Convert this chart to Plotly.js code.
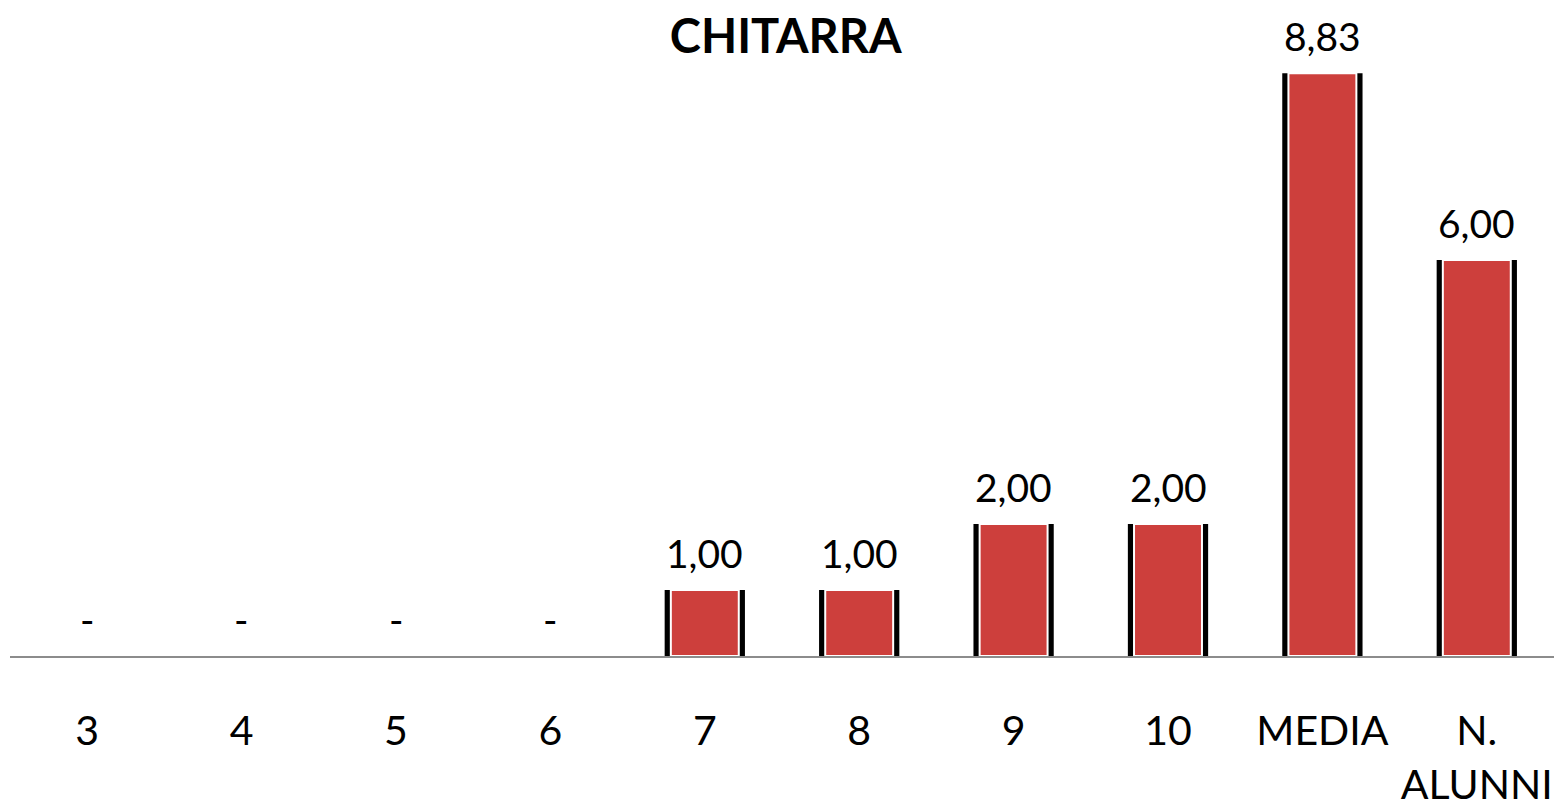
<!DOCTYPE html>
<html><head><meta charset="utf-8">
<script src="https://cdn.plot.ly/plotly-3.0.1.min.js"></script>
<style>html,body{margin:0;padding:0;background:#fff}#chart{width:1556px;height:810px}</style>
</head><body><div id="chart"></div>
<script>
const categories = ['3','4','5','6','7','8','9','10','MEDIA','N. ALUNNI'];
const tickLabels = ['3','4','5','6','7','8','9','10','MEDIA','N.<br>ALUNNI'];
const values = [0, 0, 0, 0, 1, 1, 2, 2, 8.83, 6];
const chartTitle = 'CHITARRA';

const labels = values.map(v => v === 0 ? '-' : v.toFixed(2).replace('.', ','));
const FONT = 'Lato, "Open Sans", sans-serif';

const shadow = {
  type: 'bar', x: categories, y: values, width: 0.52,
  marker: {color: '#000'}, hoverinfo: 'skip', showlegend: false
};
const bars = {
  type: 'bar', x: categories, y: values, width: 0.44,
  marker: {color: '#cd3f3c', line: {color: '#ffffff', width: 2}},
  showlegend: false
};

// category axis: annotation x given as category index
const annotations = categories.map((c, i) => ({
  x: i, y: values[i], xref: 'x', yref: 'y', text: labels[i],
  showarrow: false, yanchor: 'bottom', yshift: 12,
  font: {family: FONT, size: 39, color: '#000'}
}));

const layout = {
  width: 1556, height: 810,
  margin: {l: 10, r: 2, t: 62, b: 154},
  paper_bgcolor: '#fff', plot_bgcolor: '#fff',
  barmode: 'overlay',
  title: {text: '<b>' + chartTitle + '</b>', x: 0.505, xanchor: 'center', y: 0.955, yanchor: 'middle', yref: 'container',
    font: {family: FONT, size: 47, color: '#000'}},
  xaxis: {type: 'category', categoryorder: 'array', categoryarray: categories,
    range: [-0.5, categories.length - 0.5], autorange: false,
    tickvals: categories, ticktext: tickLabels, tickangle: 0, showgrid: false,
    showline: true, linecolor: '#8c8c8c', linewidth: 2, ticks: '', ticklabelstandoff: 38,
    tickfont: {family: FONT, size: 41, color: '#000'}, zeroline: false},
  yaxis: {range: [0, 9.0], autorange: false, visible: false, showgrid: false, zeroline: false},
  annotations: annotations,
  font: {family: FONT}
};
Plotly.newPlot('chart', [shadow, bars], layout, {displayModeBar: false, staticPlot: true});
</script></body></html>
